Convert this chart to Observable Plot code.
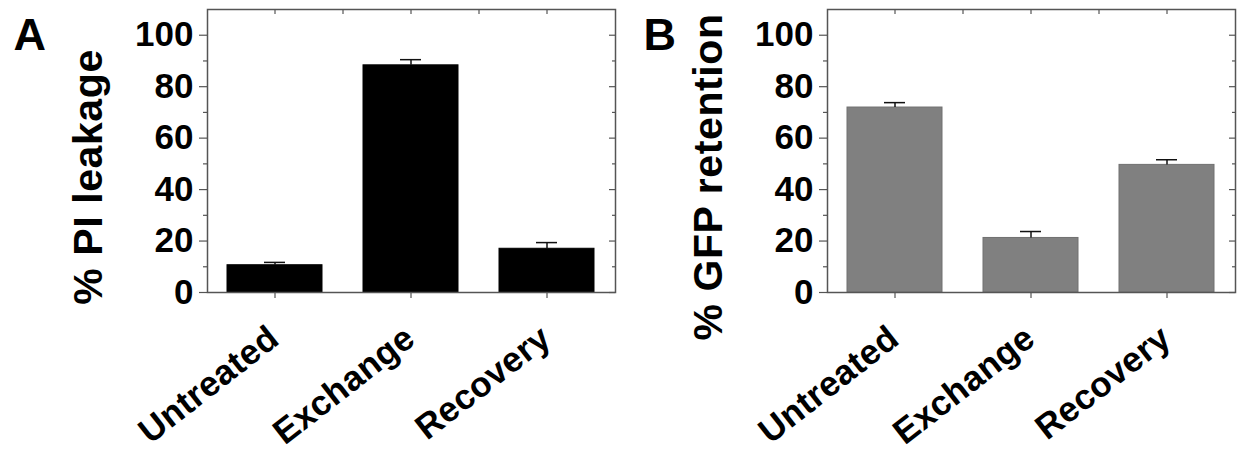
<!DOCTYPE html>
<html><head><meta charset="utf-8">
<script src="https://cdn.jsdelivr.net/npm/d3@7"></script>
<script src="https://cdn.jsdelivr.net/npm/@observablehq/plot@0.6"></script>
<style>
body{margin:0;background:#fff;}
#wrap{display:flex;width:1241px;height:453px;}
#wrap svg{display:block;}
g[aria-description="category labels"] text{letter-spacing:0.3px;}
g[aria-description="y label"] text{letter-spacing:0.6px;}
</style></head><body>
<div id="wrap"></div>
<script>
// ---- data ----
const categories = ["Untreated", "Exchange", "Recovery"];
const piLeakage = [10.6, 88.3, 17.0];
const piLeakageError = [1.1, 2.2, 2.4];
const gfpRetention = [71.9, 21.2, 49.6];
const gfpRetentionError = [1.9, 2.5, 2.0];
const yTicks = [0, 20, 40, 60, 80, 100];
const yMinorTicks = [10, 30, 50, 70, 90];
const yDomain = [0, 110];

const FONT = '"Liberation Sans", Arial, Helvetica, sans-serif';
const AXIS = "#555";

function panel(values, errors, letter, label, fill, stroke, width) {
  const data = categories.map((c, i) => ({cat: c, v: values[i], e: errors[i]}));
  const mL = 207, mR = width - 615, mT = 9, mB = 161;
  const frameW = width - mL - mR, frameH = 453 - mT - mB;
  const step = frameW / categories.length;
  return Plot.plot({
    width, height: 453,
    marginLeft: mL, marginRight: mR, marginTop: mT, marginBottom: mB,
    style: {fontFamily: FONT, color: "#000", background: "#fff", overflow: "visible"},
    x: {domain: categories, paddingInner: 0.3, paddingOuter: 0.15, axis: null},
    y: {domain: yDomain, axis: null},
    marks: [
      Plot.barY(data, {x: "cat", y: "v", fill, stroke, strokeWidth: 1}),
      Plot.ruleX(data, {x: "cat", y1: "v", y2: d => d.v + d.e, stroke: "#111", strokeWidth: 1.5}),
      Plot.tickY(data, {x: "cat", y: d => d.v + d.e, stroke: "#111", strokeWidth: 1.5, inset: 37}),
      // left axis (outward ticks + labels)
      Plot.axisY({ticks: yTicks, anchor: "left", tickSize: 8, tickPadding: 6, stroke: AXIS, strokeWidth: 1.2,
        fill: "#000", fontSize: 35, fontWeight: "bold", label: null}),
      Plot.axisY({ticks: yMinorTicks, anchor: "left", tickSize: 4, stroke: AXIS, strokeWidth: 1.2,
        tickFormat: () => "", label: null}),
      // right axis (inward ticks)
      Plot.ruleY(yTicks, {y: d => d, insetLeft: frameW - 6, stroke: AXIS, strokeWidth: 1.2}),
      Plot.ruleY(yMinorTicks, {y: d => d, insetLeft: frameW - 3, stroke: AXIS, strokeWidth: 1.2}),
      // top axis (inward ticks at categories and between them)
      Plot.ruleX(categories, {x: d => d, insetBottom: frameH - 5, stroke: AXIS, strokeWidth: 1.2}),
      Plot.ruleX(categories.slice(0, -1), {x: d => d, dx: step / 2, insetBottom: frameH - 5, stroke: AXIS, strokeWidth: 1.2}),
      // bottom axis (outward ticks)
      Plot.ruleX(categories, {x: d => d, insetTop: frameH, insetBottom: -6, stroke: AXIS, strokeWidth: 1.2}),
      Plot.frame({stroke: AXIS, strokeWidth: 1.5}),
      // category labels
      Plot.text(categories, {x: d => d, frameAnchor: "bottom", rotate: -38, textAnchor: "end", lineAnchor: "bottom",
        dx: 6, dy: 50, fontSize: 35, fontWeight: "bold", fill: "#000", ariaDescription: "category labels"}),
      // y label
      Plot.text([label], {frameAnchor: "left", rotate: -90, textAnchor: "middle", lineAnchor: "bottom",
        dx: -106, dy: 26, fontSize: 41, fontWeight: "bold", fill: "#000", ariaDescription: "y label"}),
      // panel letter
      Plot.text([letter], {frameAnchor: "top-left", textAnchor: "start", lineAnchor: "bottom",
        dx: letter === "A" ? -194 : -184, dy: 40, fontSize: 45, fontWeight: "bold", fill: "#000"})
    ]
  });
}

const wrap = document.getElementById("wrap");
wrap.append(panel(piLeakage, piLeakageError, "A", "% PI leakage", "#000000", "#000000", 620));
wrap.append(panel(gfpRetention, gfpRetentionError, "B", "% GFP retention", "#808080", "#707070", 621));
</script>
</body></html>
